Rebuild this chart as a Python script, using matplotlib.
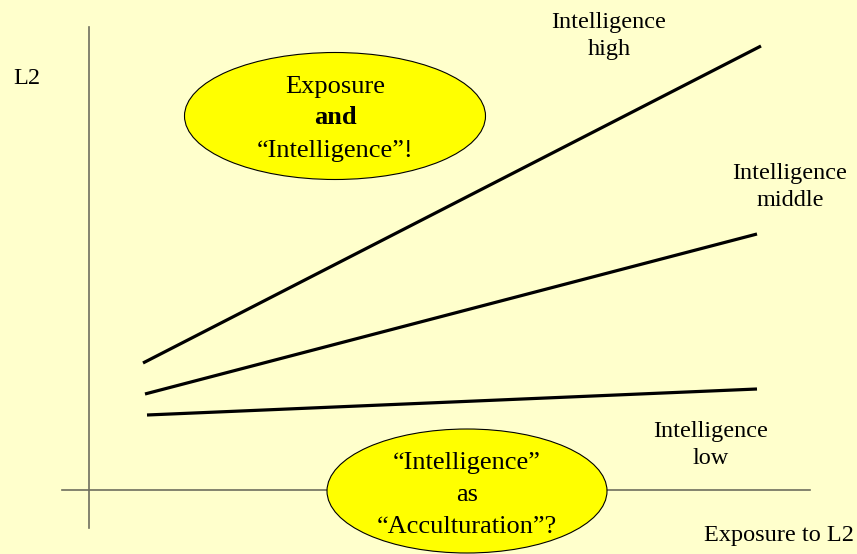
import matplotlib.pyplot as plt
from matplotlib.patches import Ellipse

plt.rcParams["font.family"] = ["Liberation Serif", "DejaVu Serif"]

# conceptual lines: exposure (x) vs. L2 (y), in arbitrary units
groups = ["Intelligence\nhigh", "Intelligence\nmiddle", "Intelligence\nlow"]
x_start = [54, 56, 58]
x_end = [672, 668, 668]
y_start = [127, 96, 75]
y_end = [444, 256, 101]
label_pos = [(520, 454), (701, 303), (622, 45)]

bg = "#FFFFCC"
axis_col = "#6E6E5E"

fig = plt.figure(figsize=(8.57, 5.54), dpi=100, facecolor=bg)
ax = fig.add_axes([0, 0, 1, 1])
ax.set_facecolor(bg)
ax.set_xlim(-89, 768)
ax.set_ylim(-64, 490)
ax.axis("off")

# axes
ax.plot([0, 0], [-38, 463], color=axis_col, lw=1.2, zorder=1)
ax.plot([-27, 721], [0, 0], color=axis_col, lw=1.2, zorder=1)

for xs, xe, ys, ye, lab, (lx, ly) in zip(x_start, x_end, y_start, y_end, groups, label_pos):
    ax.plot([xs, xe], [ys, ye], color="black", lw=2.3, solid_capstyle="butt", zorder=2)
    ax.text(lx, ly, lab, ha="center", va="center", fontsize=17.5, linespacing=1.4)

ax.text(-62, 411, "L2", ha="center", va="center", fontsize=17.5)
ax.text(690, -46, "Exposure to L2", ha="center", va="center", fontsize=17.5)

ax.add_patch(Ellipse((246, 374), 301, 127, facecolor="#FFFF00",
                     edgecolor="black", lw=0.8, zorder=3))
ax.text(246, 403, "Exposure", ha="center", va="center", fontsize=19, zorder=4)
ax.text(246, 372, "and", ha="center", va="center", fontsize=19,
        fontweight="bold", zorder=4)
ax.text(246, 339, "\u201cIntelligence\u201d!", ha="center", va="center",
        fontsize=19, zorder=4)

ax.add_patch(Ellipse((378, -1), 280, 124, facecolor="#FFFF00",
                     edgecolor="black", lw=0.8, zorder=3))
ax.text(378, 27, "\u201cIntelligence\u201d", ha="center", va="center", fontsize=19, zorder=4)
ax.text(378, -5, "as", ha="center", va="center", fontsize=19, zorder=4)
ax.text(378, -37, "\u201cAcculturation\u201d?", ha="center", va="center",
        fontsize=19, zorder=4)

fig.savefig("out.png", dpi=100, facecolor=bg)
